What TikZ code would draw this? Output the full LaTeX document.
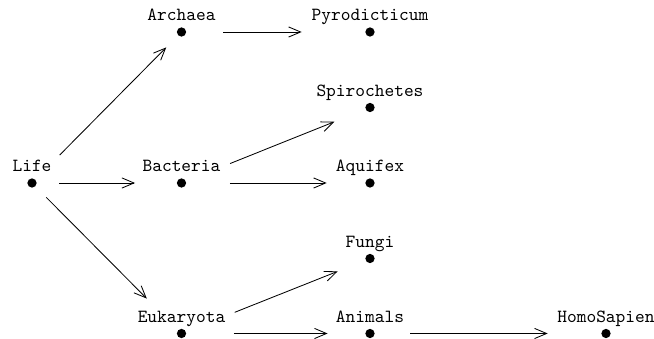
\documentclass[tikz,border=0pt]{standalone}
\usepackage{tikz}
\usetikzlibrary{arrows.meta}

\begin{document}
\begin{tikzpicture}[x=0.54pt,y=-0.54pt,
  dot/.style={circle,fill=black,inner sep=0pt,minimum size=5pt},
  lab/.style={font=\ttfamily,text depth=0pt,inner sep=3.3pt},
  edge/.style={-{Straight Barb[length=6.5pt,width=5.5pt]},line width=0.45pt}]
  \useasboundingbox (0,0) rectangle (654,339);
  % level 0
  \node[dot,label={[lab]above:Life}] (life) at (32,183) {};
  % level 1
  \node[dot,label={[lab]above:Archaea}] (arch) at (181.5,32) {};
  \node[dot,label={[lab]above:Bacteria}] (bact) at (181.5,183) {};
  \node[dot,label={[lab]above:Eukaryota}] (euk) at (181.5,333.5) {};
  % level 2
  \node[dot,label={[lab]above:Pyrodicticum}] (pyro) at (370,32) {};
  \node[dot,label={[lab]above:Spirochetes}] (spir) at (370,107.5) {};
  \node[dot,label={[lab]above:Aquifex}] (aqui) at (370,183) {};
  \node[dot,label={[lab]above:Fungi}] (fung) at (370,258.5) {};
  \node[dot,label={[lab]above:Animals}] (anim) at (370,333.5) {};
  % level 3
  \node[dot,label={[lab]above:HomoSapien}] (homo) at (606,333.5) {};

  \draw[edge,shorten <=18.5pt,shorten >=9pt] (life) -- (arch);
  \draw[edge,shorten <=12.1pt,shorten >=22.4pt] (life) -- (bact);
  \draw[edge,shorten <=8.2pt,shorten >=23.9pt] (life) -- (euk);
  \draw[edge,shorten <=19.8pt,shorten >=34.2pt] (arch) -- (pyro);
  \draw[edge,shorten <=25.6pt,shorten >=18pt] (bact) -- (spir);
  \draw[edge,shorten <=23.4pt,shorten >=20.7pt] (bact) -- (aqui);
  \draw[edge,shorten <=28.2pt,shorten >=16.1pt] (euk) -- (fung);
  \draw[edge,shorten <=25.6pt,shorten >=20.2pt] (euk) -- (anim);
  \draw[edge,shorten <=19.1pt,shorten >=28.8pt] (anim) -- (homo);
\end{tikzpicture}
\end{document}
